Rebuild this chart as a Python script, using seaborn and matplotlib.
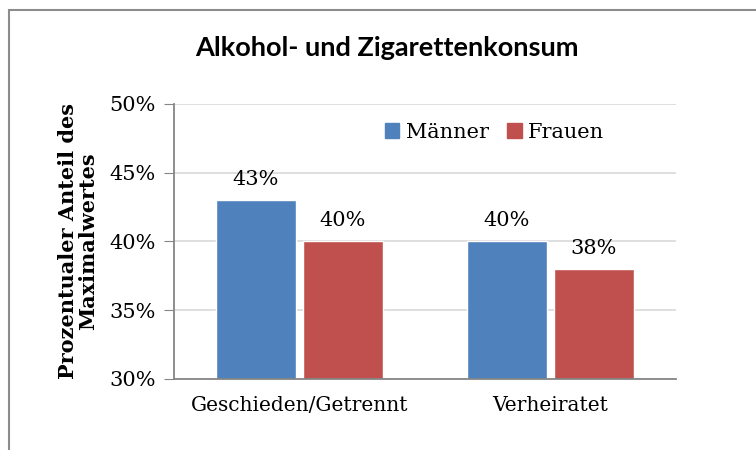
import numpy as np
import pandas as pd
import matplotlib.pyplot as plt
import matplotlib.patches as mpatches
import seaborn as sns

categories = ['Geschieden/Getrennt', 'Verheiratet']
groups = ['Männer', 'Frauen']
maenner = [0.43, 0.40]
frauen = [0.40, 0.38]
colors = ['#4F81BD', '#C0504D']

df = pd.DataFrame({
    'Kategorie': categories * 2,
    'Geschlecht': [groups[0]] * 2 + [groups[1]] * 2,
    'Wert': maenner + frauen,
})

sns.set_style('white')
plt.rcParams['text.color'] = 'black'
plt.rcParams['xtick.labelcolor'] = 'black'
plt.rcParams['ytick.labelcolor'] = 'black'
plt.rcParams['axes.labelcolor'] = 'black'
serif = ['DejaVu Serif']

fig = plt.figure(figsize=(7.56, 4.5), dpi=100)
ax = fig.add_axes([0.230, 0.158, 0.664, 0.611])

sns.barplot(data=df, x='Kategorie', y='Wert', hue='Geschlecht', order=categories,
            hue_order=groups, palette=colors, width=0.692, gap=0.075,
            saturation=1, ax=ax)

ax.set_ylim(0.30, 0.50)
ax.set_xlim(-0.5, 1.5)
ax.set_yticks([0.30, 0.35, 0.40, 0.45, 0.50])
ax.set_yticklabels(['30%', '35%', '40%', '45%', '50%'], fontfamily=serif, fontsize=15)
ax.set_xticks([0, 1])
ax.set_xticklabels(categories, fontfamily=serif, fontsize=14.5)
ax.set_xticks([-0.5, 0.5, 1.5], minor=True)
ax.tick_params(axis='x', which='major', length=0, pad=12)
ax.tick_params(axis='x', which='minor', length=7, color='#868686', direction='out')
ax.tick_params(axis='y', length=7, color='#868686', direction='out', pad=6, left=True)
ax.grid(axis='y', color='#D9D9D9', lw=1.2)
ax.set_axisbelow(True)
for s in ['top', 'right']:
    ax.spines[s].set_visible(False)
for s in ['left', 'bottom']:
    ax.spines[s].set_color('#868686')
    ax.spines[s].set_linewidth(1.3)

for cont in ax.containers:
    ax.bar_label(cont, labels=[f'{v*100:.0f}%' for v in cont.datavalues],
                 fontfamily=serif, fontsize=15, padding=8)

ax.set_xlabel('')
ax.set_ylabel('Prozentualer Anteil des\nMaximalwertes', fontfamily=serif,
              fontsize=15, fontweight='bold', labelpad=8, linespacing=1.0)

handles = [mpatches.Patch(color=c) for c in colors]
ax.legend(handles, groups, loc='upper right', bbox_to_anchor=(0.895, 1.0), ncol=2,
          frameon=False, prop={'family': serif, 'size': 15}, handlelength=0.7,
          handleheight=0.7, handletextpad=0.3, columnspacing=0.9)

fig.text(0.512, 0.893, 'Alkohol- und Zigarettenkonsum', ha='center', va='center',
         fontsize=19.5, fontweight='bold', family=['Lato', 'DejaVu Sans'])

frame = mpatches.Rectangle((0.012, -0.1), 1.1, 1.078, transform=fig.transFigure,
                           facecolor='none', edgecolor='#8C8C8C', lw=1.5, clip_on=False)
fig.patches.append(frame)

fig.savefig('out.png', dpi=100)
